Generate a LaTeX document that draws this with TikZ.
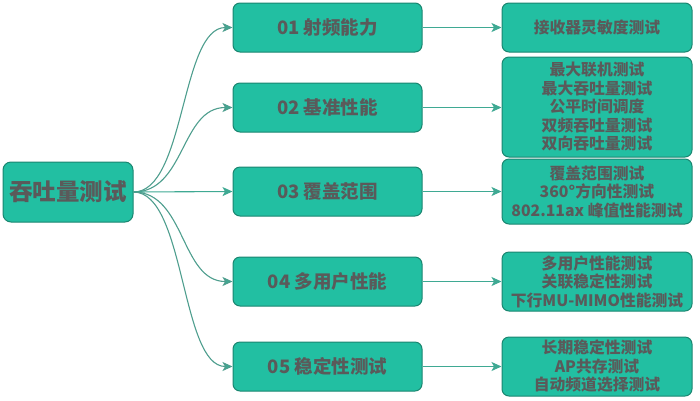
\documentclass[tikz,border=0pt]{standalone}
\usepackage{fontspec}
\setmainfont{Noto Sans CJK SC}
\usetikzlibrary{arrows.meta}
\definecolor{boxfill}{HTML}{22BFA2}
\definecolor{boxline}{HTML}{1A8670}
\definecolor{txt}{HTML}{5A5A5A}
\definecolor{conn}{HTML}{3FA993}
\definecolor{curve}{HTML}{4E9E8E}
\tikzset{
  rootbox/.style={draw=boxline, fill=boxfill, line width=1pt, rounded corners=8pt,
    minimum width=130pt, minimum height=60pt, inner sep=0pt, text=txt,
    font=\fontsize{23.5}{28}\selectfont\bfseries},
  midbox/.style={draw=boxline, fill=boxfill, line width=1pt, rounded corners=7pt,
    minimum width=189pt, minimum height=49pt, inner sep=0pt, text=txt,
    font=\fontsize{18.5}{22}\selectfont\bfseries},
  leafbox/.style={draw=boxline, fill=boxfill, line width=1pt, rounded corners=7pt,
    minimum width=190pt, inner sep=0pt, text=txt, align=center,
    font=\fontsize{15.8}{18.5}\selectfont\bfseries},
  flow/.style={draw=conn, line width=1.1pt, -{Stealth[length=10pt,width=9pt,inset=2.5pt]}},
  branch/.style={draw=curve, line width=1.1pt, -{Stealth[length=10pt,width=9pt,inset=2.5pt,fill=conn]}}
}
\begin{document}
\begin{tikzpicture}[x=1pt,y=-1pt]
\useasboundingbox (0,0) rectangle (700,400);
\node[rootbox] (root) at (68,192) {吞吐量测试};
\node[midbox] (m1) at (327.5,27.5) {01 射频能力};
\node[midbox] (m2) at (327.5,107.5) {02 基准性能};
\node[midbox] (m3) at (327.5,191.5) {03 覆盖范围};
\node[midbox] (m4) at (327.5,281.5) {04 多用户性能};
\node[midbox] (m5) at (327.5,366.5) {05 稳定性测试};
\node[leafbox, minimum height=49pt] (r1) at (597,27.5) {接收器灵敏度测试};
\node[leafbox, minimum height=100pt] (r2) at (597,107) {最大联机测试\\最大吞吐量测试\\公平时间调度\\双频吞吐量测试\\双向吞吐量测试};
\node[leafbox, minimum height=65pt] (r3) at (597,191.5) {覆盖范围测试\\360°方向性测试\\802.11ax 峰值性能测试};
\node[leafbox, minimum height=59pt] (r4) at (597,281.5) {多用户性能测试\\关联稳定性测试\\下行MU-MIMO性能测试};
\node[leafbox, minimum height=59pt] (r5) at (597,366.5) {长期稳定性测试\\AP共存测试\\自动频道选择测试};
\draw[branch] (root.east) .. controls +(52,0) and +(-52,0) .. (m1.west);
\draw[branch] (root.east) .. controls +(52,0) and +(-52,0) .. (m2.west);
\draw[flow] (root.east) -- (m3.west);
\draw[branch] (root.east) .. controls +(52,0) and +(-52,0) .. (m4.west);
\draw[branch] (root.east) .. controls +(52,0) and +(-52,0) .. (m5.west);
\draw[flow] (m1.east) -- (r1.west);
\draw[flow] (m2.east) -- (r2.west |- m2.east);
\draw[flow] (m3.east) -- (r3.west |- m3.east);
\draw[flow] (m4.east) -- (r4.west |- m4.east);
\draw[flow] (m5.east) -- (r5.west |- m5.east);
\end{tikzpicture}
\end{document}
